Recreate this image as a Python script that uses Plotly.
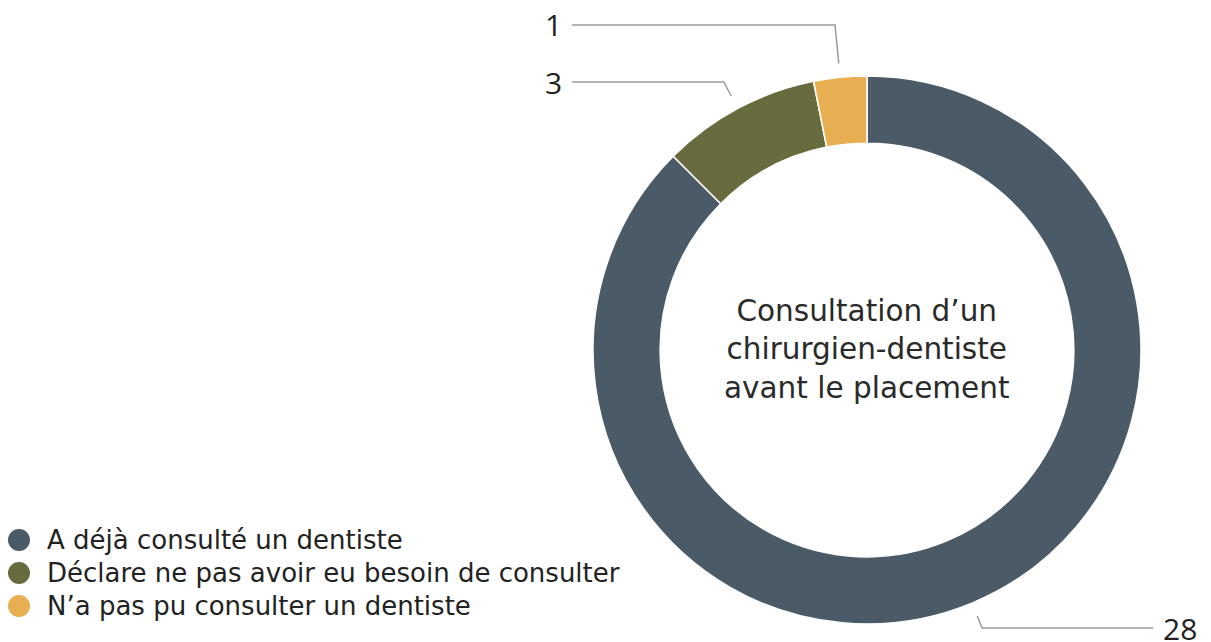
import math
import plotly.graph_objects as go

# données
labels = ["A déjà consulté un dentiste",
          "Déclare ne pas avoir eu besoin de consulter",
          "N’a pas pu consulter un dentiste"]
values = [28, 3, 1]
colors = ["#4a5a66", "#676b3e", "#e8ae52"]
center_text = "Consultation d’un<br>chirurgien-dentiste<br>avant le placement"

# mise en page (pixels de l'écran ; la page décale la figure de 8 px)
W, H = 1211, 642
OFF = 8
cx, cy, R = 867, 350, 274
FONT = "'Open Sans', 'Noto Sans', sans-serif"
FONT_TXT = "'DejaVu Sans', 'Noto Sans', sans-serif"

# position des étiquettes extérieures : (y du texte, x de fin du trait, côté)
label_pos = [(628, 1153, "right"), (82, 572, "left"), (25, 572, "left")]
# légende : y de chaque ligne
legend_y = [540, 573, 606]


def px(x, y):
    return (x - OFF) / W, 1 - (y - OFF) / H


fig = go.Figure()
x_lo, y_hi = px(cx - R, cy - R)
x_hi, y_lo = px(cx + R, cy + R)
fig.add_trace(go.Pie(
    labels=labels, values=values, hole=0.755, sort=False,
    direction="clockwise", rotation=0,
    marker=dict(colors=colors, line=dict(color="white", width=1.5)),
    textinfo="none", showlegend=False, hoverinfo="label+value",
    domain=dict(x=[x_lo, x_hi], y=[y_lo, y_hi]),
))

# légende : pastilles rondes + libellés
for lab, col, yy in zip(labels, colors, legend_y):
    a0, b0 = px(19 - 11, yy + 11)
    a1, b1 = px(19 + 11, yy - 11)
    fig.add_shape(type="circle", xref="paper", yref="paper",
                  x0=a0, x1=a1, y0=b0, y1=b1,
                  fillcolor=col, line=dict(width=0))
    tx, ty = px(45, yy)
    fig.add_annotation(x=tx, y=ty, xref="paper", yref="paper", text=lab,
                       showarrow=False, xanchor="left", yanchor="middle",
                       font=dict(size=26, color="#222222", family=FONT_TXT))

# traits de rappel + valeurs
total = sum(values)
start = 0.0
for v, (ly, ex, side) in zip(values, label_pos):
    ang = math.radians(start + v / total * 180)
    start += v / total * 360
    r0 = R + 14
    x0, y0 = cx + r0 * math.sin(ang), cy - r0 * math.cos(ang)
    dr = (ly - y0) / (-math.cos(ang))
    x1 = x0 + dr * math.sin(ang)
    pts = [px(x0, y0), px(x1, ly), px(ex, ly)]
    path = "M " + " L ".join(f"{a},{b}" for a, b in pts)
    fig.add_shape(type="path", path=path, xref="paper", yref="paper",
                  line=dict(color="#9a9a9a", width=1.5))
    tx, ty = px(ex + (8 if side == "right" else -8), ly)
    fig.add_annotation(x=tx, y=ty, xref="paper", yref="paper", text=str(v),
                       showarrow=False, xanchor="left" if side == "right" else "right",
                       yanchor="middle", font=dict(size=30, color="#222222", family=FONT))

# texte central
fx, fy = px(cx, cy)
fig.add_annotation(x=fx, y=fy, xref="paper", yref="paper", text=center_text,
                   showarrow=False, xanchor="center", yanchor="middle",
                   font=dict(size=29.5, color="#2a2a2a", family=FONT_TXT))

fig.update_layout(
    width=W, height=H,
    margin=dict(l=0, r=0, t=0, b=0),
    paper_bgcolor="white", plot_bgcolor="white",
    showlegend=False,
    font=dict(family=FONT),
)

fig.write_html("out.html")
